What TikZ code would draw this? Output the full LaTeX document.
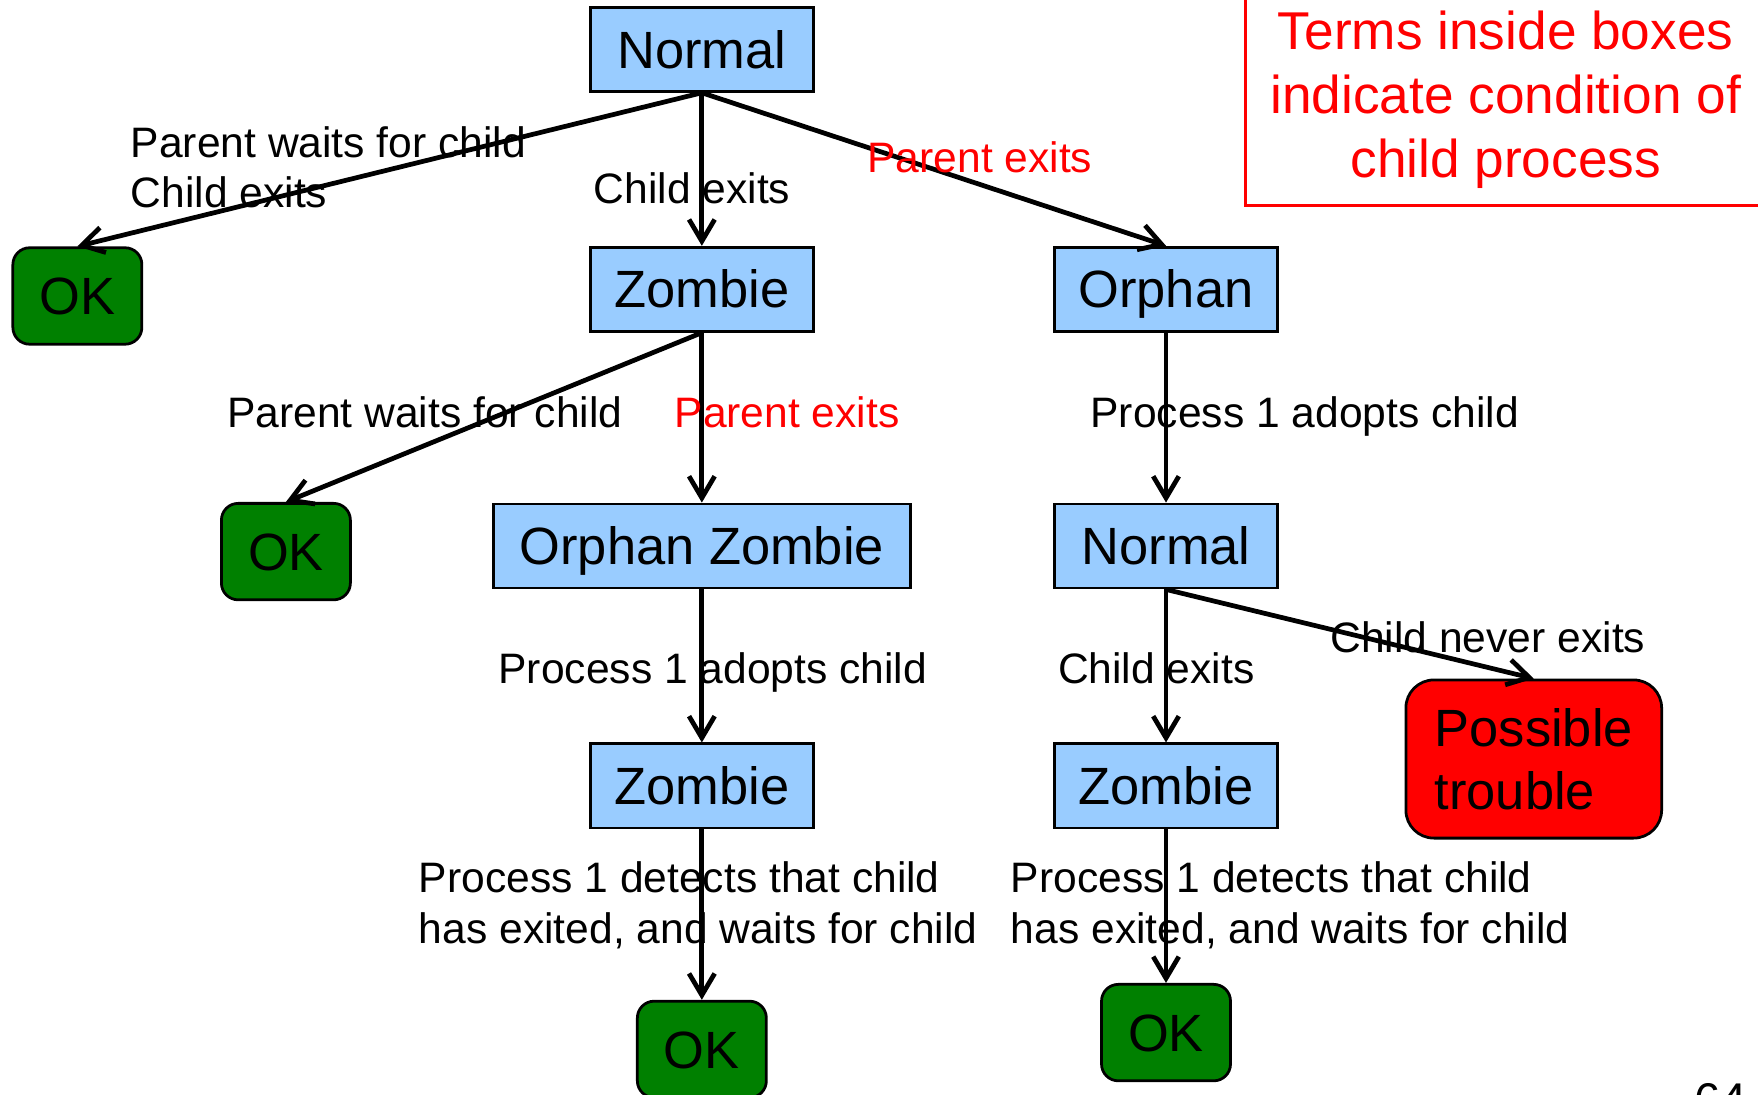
\documentclass[tikz,border=0pt]{standalone}
\usepackage{fontspec}
\setmainfont{Liberation Sans}
\usetikzlibrary{arrows.meta}

\definecolor{boxblue}{HTML}{99CCFF}
\definecolor{okgreen}{HTML}{008000}

\begin{document}
\begin{tikzpicture}[x=0.01cm, y=-0.01cm,
    state/.style={draw=black, line width=0.7pt, fill=boxblue, inner sep=0pt, minimum width=1.99cm, minimum height=0.75cm, text height=9.5pt, text depth=0pt, font=\fontsize{13.3}{16}\selectfont},
    okbox/.style={state, fill=okgreen, rounded corners=0.15cm, minimum width=1.15cm, minimum height=0.86cm},
    trouble/.style={draw=black, line width=0.7pt, fill=red, rounded corners=0.25cm, minimum width=2.28cm, minimum height=1.41cm, align=left, font=\fontsize{13.3}{15.9}\selectfont},
    edgetext/.style={anchor=west, inner sep=0pt, text height=7.7pt, text depth=0pt, font=\fontsize{10.8}{12.8}\selectfont},
    edgenote/.style={anchor=north west, inner sep=0pt, align=left, font=\fontsize{10.8}{12.8}\selectfont},
    edge/.style={line width=1.2pt, -{Straight Barb[length=5.5pt, width=6.5pt, line width=1.2pt]}}]

      \useasboundingbox (0, 0) rectangle (1568, 976);

      % states
      \node[state] (top) at (626, 44) {Normal};
      \node[okbox] (ok1) at (69, 264) {OK};
      \node[state] (zombie1) at (626, 258) {Zombie};
      \node[state] (orphan) at (1040, 258) {Orphan};
      \node[okbox] (ok2) at (255, 492) {OK};
      \node[state, minimum width=3.72cm] (orphzomb) at (626, 487) {Orphan Zombie};
      \node[state] (normal2) at (1040, 487) {Normal};
      \node[trouble] (trouble) at (1368, 677) {Possible\\trouble};
      \node[state] (zombie2) at (626, 701) {Zombie};
      \node[state] (zombie3) at (1040, 701) {Zombie};
      \node[okbox] (ok3) at (626, 936) {OK};
      \node[okbox] (ok4) at (1040, 921) {OK};

      \node[draw=red, line width=0.7pt, text=red, align=center, minimum width=4.64cm, minimum height=1.88cm, font=\fontsize{13.5}{16.2}\selectfont] (legend) at (1343, 89) {Terms inside boxes\\indicate condition of\\child process};

      % transitions
      \draw[edge] (top.south) -- (ok1.north);
      \draw[edge] (top.south) -- (zombie1.north);
      \draw[edge] (top.south) -- (orphan.north);
      \draw[edge] (zombie1.south) -- (ok2.north);
      \draw[edge] (zombie1.south) -- (orphzomb.north);
      \draw[edge] (orphan.south) -- (normal2.north);
      \draw[edge] (orphzomb.south) -- (zombie2.north);
      \draw[edge] (normal2.south) -- (trouble.north);
      \draw[edge] (normal2.south) -- (zombie3.north);
      \draw[edge] (zombie2.south) -- (ok3.north);
      \draw[edge] (zombie3.south) -- (ok4.north);

      % labels
      \node[edgenote] (waitexit) at (116, 112) {Parent waits for child\\Child exits};
      \node[edgetext] (cexit1) at (529, 168) {Child exits};
      \node[edgetext, text=red] (pexit1) at (773, 140) {Parent exits};
      \node[edgetext] (pwait) at (202, 368) {Parent waits for child};
      \node[edgetext, text=red] (pexit2) at (601, 368) {Parent exits};
      \node[edgetext] (adopt1) at (972, 368) {Process 1 adopts child};
      \node[edgetext] (adopt2) at (444, 596) {Process 1 adopts child};
      \node[edgetext] (cexit2) at (943, 596) {Child exits};
      \node[edgetext] (never) at (1186, 568) {Child never exits};
      \node[edgenote] (detect1) at (373, 768) {Process 1 detects that child\\has exited, and waits for child};
      \node[edgenote] (detect2) at (901, 768) {Process 1 detects that child\\has exited, and waits for child};

      \node[inner sep=0pt, text height=8.6pt, text depth=0pt, font=\fontsize{12}{14}\selectfont] (pagenum) at (1535, 981) {64};

    \end{tikzpicture}
\end{document}
